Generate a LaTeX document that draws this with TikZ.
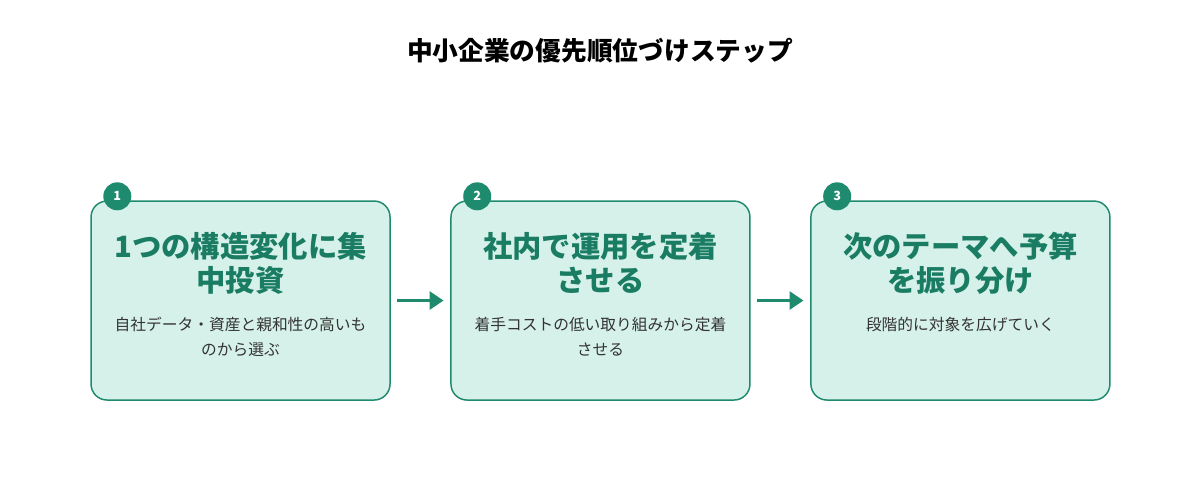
\documentclass[tikz,border=0pt]{standalone}
\usepackage{fontspec}
\setmainfont{Noto Sans CJK JP}
\usepackage{tikz}
\usetikzlibrary{arrows.meta,positioning}

\definecolor{stepgreen}{HTML}{1E8A6E}
\definecolor{steptitle}{HTML}{1A7D63}
\definecolor{stepfill}{HTML}{D6F1E9}
\definecolor{steptext}{HTML}{333333}

\begin{document}
\begin{tikzpicture}[>={Triangle[length=10.5pt,width=13.5pt]}, node distance=44.6pt]
		
		\tikzstyle{stepbox}=[rectangle, rounded corners=12pt, draw=stepgreen, line width=1.1pt,
		fill=stepfill, minimum width=224.25pt, minimum height=149.25pt, inner sep=0pt]
		\tikzstyle{steptitle}=[align=center, inner sep=0pt, text=steptitle,
		font=\bfseries\fontsize{22}{25}\selectfont]
		\tikzstyle{stepdesc}=[align=center, inner sep=0pt, text=steptext,
		font=\fontsize{11.8}{18.75}\selectfont]
		\tikzstyle{badge}=[circle, fill=stepgreen, text=white, minimum size=21pt, inner sep=0pt,
		font=\bfseries\fontsize{9.5}{11}\selectfont]
		
		\useasboundingbox (0,0) rectangle (900pt,-375pt);
		
		% Heading
		\node[font=\bfseries\fontsize{19.3}{22}\selectfont] (head) at (450pt,-38.25pt)
		{中小企業の優先順位づけステップ};
		
		% Step boxes
		\node[stepbox] (s1) at (180.4pt,-225.4pt) {};
		\node[stepbox, right=of s1] (s2) {};
		\node[stepbox, right=of s2] (s3) {};
		
		% Step titles
		\node[steptitle, below=24pt of s1.north] (t1) {1つの構造変化に集\\中投資};
		\node[steptitle, below=24pt of s2.north] (t2) {社内で運用を定着\\させる};
		\node[steptitle, below=24pt of s3.north] (t3) {次のテーマへ予算\\を振り分け};
		
		% Step descriptions
		\node[stepdesc, below=87.75pt of s1.north] (d1) {自社データ・資産と親和性の高いも\\のから選ぶ};
		\node[stepdesc, below=87.75pt of s2.north] (d2) {着手コストの低い取り組みから定着\\させる};
		\node[stepdesc, below=87.75pt of s3.north] (d3) {段階的に対象を広げていく};
		
		% Number badges
		\node[badge] (b1) at ([xshift=20.25pt,yshift=3pt]s1.north west) {1};
		\node[badge] (b2) at ([xshift=20.25pt,yshift=3pt]s2.north west) {2};
		\node[badge] (b3) at ([xshift=20.25pt,yshift=3pt]s3.north west) {3};
		
		% Flow arrows
		\draw[->, stepgreen, line width=2.25pt, shorten <=4.5pt, shorten >=5pt] (s1) -- (s2);
		\draw[->, stepgreen, line width=2.25pt, shorten <=4.5pt, shorten >=5pt] (s2) -- (s3);
		
\end{tikzpicture}
\end{document}
